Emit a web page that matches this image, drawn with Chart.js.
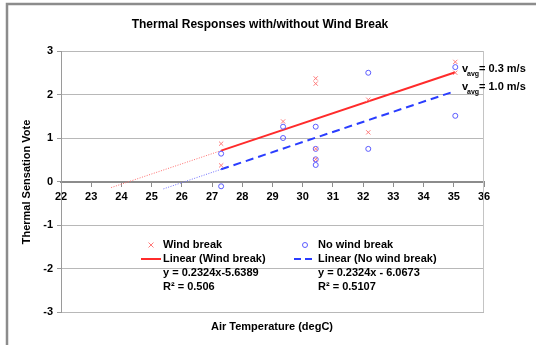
<!DOCTYPE html>
<html>
<head>
<meta charset="utf-8">
<title>Thermal Responses with/without Wind Break</title>
<script src="https://cdn.jsdelivr.net/npm/chart.js@4"></script>
<style>
  body { margin: 0; background: #fff; }
  #wrap { width: 536px; height: 345px; }
</style>
</head>
<body>
<div id="wrap"><canvas id="thermalChart" width="536" height="345"></canvas></div>
<script>
// --- Data ---
const windX = [27.3, 27.3, 29.35, 30.43, 30.43, 30.43, 30.43, 32.17, 32.17, 35.05, 35.05];
const windY = [0.87, 0.37, 1.38, 2.37, 2.25, 0.75, 0.51, 1.88, 1.13, 2.75, 2.5];

const noWindX = [27.3, 27.3, 29.35, 29.35, 30.43, 30.43, 30.43, 30.43, 32.17, 32.17, 35.05, 35.05];
const noWindY = [0.64, -0.11, 1.26, 1.0, 1.26, 0.75, 0.51, 0.38, 2.5, 0.75, 2.63, 1.51];

// trendline ends (solid/dashed part) and the dotted backward extension
const windTrendX = [27.3, 35.05];
const windTrendY = [0.71, 2.51];
const windBackX = [23.66, 27.3];
const windBackY = [-0.14, 0.71];

const noWindTrendX = [27.3, 35.05];
const noWindTrendY = [0.28, 2.08];
const noWindBackX = [25.39, 27.3];
const noWindBackY = [-0.17, 0.28];

const seriesNames = ['Wind break', 'No wind break'];
const trendNames = ['Linear (Wind break)', 'Linear (No wind break)'];
const equations = ['y = 0.2324x-5.6389', 'y = 0.2324x - 6.0673'];
const rSquared = ['R\u00b2 = 0.506', 'R\u00b2 = 0.5107'];
const speedNotes = ['= 0.3 m/s', '= 1.0 m/s'];

const RED_MARK = '#ff7a7a';
const RED_LINE = '#ff2b2b';
const BLUE_MARK = '#5c5cff';
const BLUE_LINE = '#2a3dff';
const BOLD = 'bold 11px Arial, "Liberation Sans", sans-serif';

const toPoints = (xs, ys) => xs.map((x, i) => ({ x: x, y: ys[i] }));

// --- Extra drawing: frame, titles, notes and the legend ---
const decorPlugin = {
    id: 'decor',
    beforeDraw(chart) {
        const ctx = chart.ctx;
        ctx.save();
        ctx.fillStyle = '#fff';
        ctx.fillRect(0, 0, chart.width, chart.height);
        // outer frame (only top and left are inside the picture)
        ctx.strokeStyle = '#8c8c8c';
        ctx.lineWidth = 2.5;
        ctx.beginPath();
        ctx.moveTo(7, chart.height);
        ctx.lineTo(7, 4);
        ctx.lineTo(chart.width, 4);
        ctx.stroke();
        ctx.restore();
    },
    beforeDatasetsDraw(chart) {
        const { ctx, chartArea } = chart;
        ctx.save();
        ctx.strokeStyle = '#c4c4c4';
        ctx.lineWidth = 1;
        ctx.beginPath();
        ctx.moveTo(chartArea.right - 0.5, chartArea.top);
        ctx.lineTo(chartArea.right - 0.5, chartArea.bottom);
        ctx.stroke();
        ctx.restore();
    },
    afterDraw(chart) {
        const ctx = chart.ctx;
        ctx.save();
        ctx.fillStyle = '#000';
        ctx.textBaseline = 'middle';

        // chart title
        ctx.font = 'bold 12px Arial, "Liberation Sans", sans-serif';
        ctx.textAlign = 'center';
        ctx.fillText('Thermal Responses with/without Wind Break', 260, 25);

        // axis titles
        ctx.font = BOLD;
        ctx.fillText('Air Temperature (degC)', 272, 327);
        ctx.save();
        ctx.translate(27, 182);
        ctx.rotate(-Math.PI / 2);
        ctx.fillText('Thermal Sensation Vote', 0, 0);
        ctx.restore();

        // v_avg notes at the right end of the trendlines
        ctx.textAlign = 'left';
        [69, 87].forEach((y, i) => {
            ctx.font = BOLD;
            ctx.fillText('v', 462, y);
            ctx.font = 'bold 7px Arial, "Liberation Sans", sans-serif';
            ctx.fillText('avg', 467, y + 5);
            ctx.font = BOLD;
            ctx.fillText(speedNotes[i], 479, y);
        });

        // legend
        const cols = [
            { mx: 151, tx: 163, mark: RED_MARK, line: RED_LINE, dash: [], l0: 141 },
            { mx: 305, tx: 318, mark: BLUE_MARK, line: BLUE_LINE, dash: [7, 4], l0: 294 }
        ];
        cols.forEach((c, i) => {
            ctx.strokeStyle = c.mark;
            ctx.lineWidth = 1;
            ctx.setLineDash([]);
            ctx.beginPath();
            if (i === 0) {
                ctx.moveTo(c.mx - 2.5, 242.5); ctx.lineTo(c.mx + 2.5, 247.5);
                ctx.moveTo(c.mx + 2.5, 242.5); ctx.lineTo(c.mx - 2.5, 247.5);
            } else {
                ctx.arc(c.mx, 245, 2.5, 0, Math.PI * 2);
            }
            ctx.stroke();

            ctx.strokeStyle = c.line;
            ctx.lineWidth = 2;
            ctx.setLineDash(c.dash);
            ctx.beginPath();
            ctx.moveTo(c.l0, 259);
            ctx.lineTo(c.tx - 2, 259);
            ctx.stroke();
            ctx.setLineDash([]);

            ctx.font = BOLD;
            ctx.fillStyle = '#000';
            ctx.fillText(seriesNames[i], c.tx, 245);
            ctx.fillText(trendNames[i], c.tx, 259);
            ctx.fillText(equations[i], c.tx, 273);
            ctx.fillText(rSquared[i], c.tx, 287);
        });
        ctx.restore();
    }
};

// --- Chart ---
const ctx = document.getElementById('thermalChart').getContext('2d');
const chart = new Chart(ctx, {
    type: 'scatter',
    data: {
        datasets: [
            {
                label: seriesNames[0],
                data: toPoints(windX, windY),
                pointStyle: 'crossRot',
                pointRadius: 3,
                borderColor: RED_MARK,
                borderWidth: 1
            },
            {
                label: seriesNames[1],
                data: toPoints(noWindX, noWindY),
                pointStyle: 'circle',
                pointRadius: 2.5,
                borderColor: BLUE_MARK,
                backgroundColor: 'rgba(0,0,0,0)',
                borderWidth: 1
            },
            {
                label: trendNames[0],
                data: toPoints(windTrendX, windTrendY),
                showLine: true,
                pointRadius: 0,
                borderColor: RED_LINE,
                borderWidth: 2
            },
            {
                label: trendNames[0] + ' back',
                data: toPoints(windBackX, windBackY),
                showLine: true,
                pointRadius: 0,
                borderColor: '#ff6f6f',
                borderWidth: 1,
                borderDash: [1, 1.5]
            },
            {
                label: trendNames[1],
                data: toPoints(noWindTrendX, noWindTrendY),
                showLine: true,
                pointRadius: 0,
                borderColor: BLUE_LINE,
                borderWidth: 2,
                borderDash: [8, 5]
            },
            {
                label: trendNames[1] + ' back',
                data: toPoints(noWindBackX, noWindBackY),
                showLine: true,
                pointRadius: 0,
                borderColor: '#6f6fff',
                borderWidth: 1,
                borderDash: [1, 1.5]
            }
        ]
    },
    options: {
        responsive: false,
        animation: false,
        layout: { padding: { left: 0, top: 51, right: 52, bottom: 33 } },
        plugins: {
            legend: { display: false },
            title: { display: false },
            tooltip: { enabled: false }
        },
        scales: {
            x: {
                type: 'linear',
                min: 22,
                max: 36,
                position: { y: 0 },
                ticks: {
                    stepSize: 1,
                    color: '#000',
                    padding: 5,
                    maxRotation: 0,
                    font: { family: 'Arial, "Liberation Sans", sans-serif', size: 11, weight: 'bold' }
                },
                grid: { drawOnChartArea: false, tickLength: 4, tickColor: '#8c8c8c' },
                border: { color: '#8c8c8c', width: 2 }
            },
            y: {
                type: 'linear',
                min: -3,
                max: 3,
                position: 'left',
                ticks: {
                    stepSize: 1,
                    color: '#000',
                    padding: 4,
                    font: { family: 'Arial, "Liberation Sans", sans-serif', size: 11, weight: 'bold' }
                },
                grid: { color: '#b8b8b8', tickLength: 4, tickColor: '#9a9a9a' },
                border: { color: '#9a9a9a', width: 1 },
                afterFit: (scale) => { scale.width = 61; }
            }
        }
    },
    plugins: [decorPlugin]
});
</script>
</body>
</html>
